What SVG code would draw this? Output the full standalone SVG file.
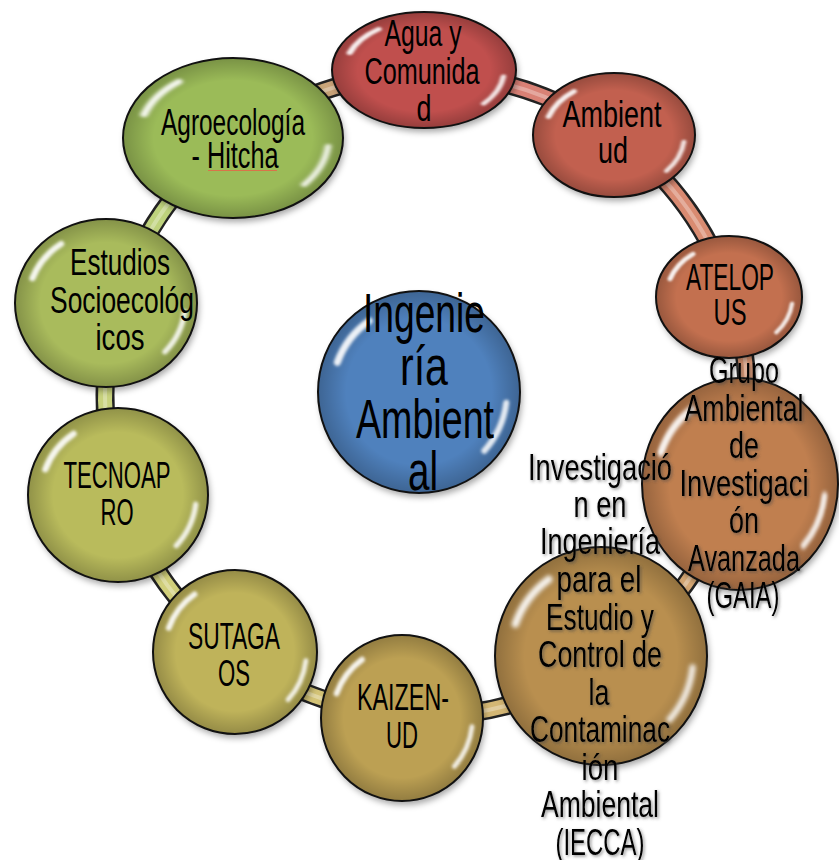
<svg xmlns="http://www.w3.org/2000/svg" xmlns:xlink="http://www.w3.org/1999/xlink" width="839" height="860" viewBox="0 0 839 860">
<style>
.t{font-family:"Liberation Sans Narrow","Liberation Sans",Arial,sans-serif;font-size:37px;fill:#000;text-anchor:middle}
.big{font-size:56px}
.rim{fill:url(#rim);stroke:#111;stroke-width:2}
.band{fill:none;stroke-width:14}
.ts{filter:url(#tsh)}
</style>
<defs>
<filter id="sh" x="-20%" y="-20%" width="140%" height="140%"><feDropShadow dx="2" dy="4" stdDeviation="3" flood-color="#000" flood-opacity="0.35"/></filter>
<filter id="tsh" x="-10%" y="-10%" width="120%" height="120%"><feDropShadow dx="1.5" dy="1.5" stdDeviation="1.5" flood-color="#444" flood-opacity="0.6"/></filter>
<filter id="gb" x="-0.3" y="-0.3" width="1.6" height="1.6"><feGaussianBlur stdDeviation="0.018"/></filter>
<radialGradient id="rim" cx="0.5" cy="0.5" r="0.5">
<stop offset="0.72" stop-color="#000" stop-opacity="0"/>
<stop offset="1" stop-color="#000" stop-opacity="0.22"/>
</radialGradient>
<g id="gloss" fill="none" stroke="#fff" stroke-linecap="round" filter="url(#gb)">
<path d="M-0.808,-0.294 A0.86,0.86 0 0 1 -0.493,-0.704" stroke-width="0.07" stroke-opacity="0.9"/>
<path d="M0.864,0.106 A0.87,0.87 0 0 1 0.647,0.582" stroke-width="0.06" stroke-opacity="0.85"/>
</g>
<linearGradient id="g1" gradientUnits="userSpaceOnUse" x1="423.8" y1="74" x2="614.2" y2="135"><stop offset="0" stop-color="#d97b78"/><stop offset="1" stop-color="#d98673"/></linearGradient>
<linearGradient id="g2" gradientUnits="userSpaceOnUse" x1="614.2" y1="135" x2="731.5" y2="296.3"><stop offset="0" stop-color="#d98673"/><stop offset="1" stop-color="#d98f70"/></linearGradient>
<linearGradient id="g3" gradientUnits="userSpaceOnUse" x1="731.5" y1="296.3" x2="734.9" y2="482.4"><stop offset="0" stop-color="#d98f70"/><stop offset="1" stop-color="#d9a074"/></linearGradient>
<linearGradient id="g4" gradientUnits="userSpaceOnUse" x1="734.9" y1="482.4" x2="604.6" y2="661.8"><stop offset="0" stop-color="#d9a074"/><stop offset="1" stop-color="#d4b074"/></linearGradient>
<linearGradient id="g5" gradientUnits="userSpaceOnUse" x1="604.6" y1="661.8" x2="402.5" y2="715.1"><stop offset="0" stop-color="#d4b074"/><stop offset="1" stop-color="#d4bc74"/></linearGradient>
<linearGradient id="g6" gradientUnits="userSpaceOnUse" x1="402.5" y1="715.1" x2="234.6" y2="652.7"><stop offset="0" stop-color="#d4bc74"/><stop offset="1" stop-color="#d4cc7a"/></linearGradient>
<linearGradient id="g7" gradientUnits="userSpaceOnUse" x1="234.6" y1="652.7" x2="120.7" y2="494.2"><stop offset="0" stop-color="#d4cc7a"/><stop offset="1" stop-color="#cdd27c"/></linearGradient>
<linearGradient id="g8" gradientUnits="userSpaceOnUse" x1="120.7" y1="494.2" x2="117.4" y2="306.5"><stop offset="0" stop-color="#cdd27c"/><stop offset="1" stop-color="#c3d27e"/></linearGradient>
<linearGradient id="g9" gradientUnits="userSpaceOnUse" x1="117.4" y1="306.5" x2="233.3" y2="138.3"><stop offset="0" stop-color="#c3d27e"/><stop offset="1" stop-color="#b8d27a"/></linearGradient>
<linearGradient id="g10" gradientUnits="userSpaceOnUse" x1="233.3" y1="138.3" x2="423.8" y2="74"><stop offset="0" stop-color="#b8d27a"/><stop offset="1" stop-color="#d97b78"/></linearGradient>
</defs>
<rect width="839" height="860" fill="#fff"/>
<g id="connectors">
<circle cx="426" cy="395" r="321" fill="none" stroke="#222" stroke-width="19"/>
<path class="band" stroke="url(#g1)" d="M423.8,74 A321,321 0 0 1 614.2,135"/>
<path class="band" stroke="url(#g2)" d="M614.2,135 A321,321 0 0 1 731.5,296.3"/>
<path class="band" stroke="url(#g3)" d="M731.5,296.3 A321,321 0 0 1 734.9,482.4"/>
<path class="band" stroke="url(#g4)" d="M734.9,482.4 A321,321 0 0 1 604.6,661.8"/>
<path class="band" stroke="url(#g5)" d="M604.6,661.8 A321,321 0 0 1 402.5,715.1"/>
<path class="band" stroke="url(#g6)" d="M402.5,715.1 A321,321 0 0 1 234.6,652.7"/>
<path class="band" stroke="url(#g7)" d="M234.6,652.7 A321,321 0 0 1 120.7,494.2"/>
<path class="band" stroke="url(#g8)" d="M120.7,494.2 A321,321 0 0 1 117.4,306.5"/>
<path class="band" stroke="url(#g9)" d="M117.4,306.5 A321,321 0 0 1 233.3,138.3"/>
<path class="band" stroke="url(#g10)" d="M233.3,138.3 A321,321 0 0 1 423.8,74"/>
<circle cx="426" cy="395" r="321" fill="none" stroke="#fff" stroke-opacity="0.3" stroke-width="4"/>
</g>
<g id="n-center">
<ellipse cx="419" cy="392" rx="101" ry="101" fill="#4f81bd" filter="url(#sh)"/>
<ellipse cx="419" cy="392" rx="101" ry="101" class="rim"/>
<use xlink:href="#gloss" transform="translate(419 392) scale(101 101)"/>
<text class="t big" x="424" y="332" textLength="122" lengthAdjust="spacingAndGlyphs">Ingenie</text>
<text class="t big" x="424" y="385" textLength="48" lengthAdjust="spacingAndGlyphs">ría</text>
<text class="t big" x="425" y="438" textLength="138" lengthAdjust="spacingAndGlyphs">Ambient</text>
<text class="t big" x="423" y="490" textLength="30" lengthAdjust="spacingAndGlyphs">al</text>
</g>
<g id="n-agua">
<ellipse cx="424" cy="70" rx="92" ry="58" fill="#c0504d" filter="url(#sh)"/>
<ellipse cx="424" cy="70" rx="92" ry="58" class="rim"/>
<use xlink:href="#gloss" transform="translate(424 70) scale(92 58)"/>
<text class="t" x="423" y="46" textLength="77" lengthAdjust="spacingAndGlyphs">Agua y</text>
<text class="t" x="422" y="84" textLength="115" lengthAdjust="spacingAndGlyphs">Comunida</text>
<text class="t" x="424" y="121" textLength="15" lengthAdjust="spacingAndGlyphs">d</text>
</g>
<g id="n-ambientud">
<ellipse cx="614" cy="135" rx="81" ry="62" fill="#c2614f" filter="url(#sh)"/>
<ellipse cx="614" cy="135" rx="81" ry="62" class="rim"/>
<use xlink:href="#gloss" transform="translate(614 135) scale(81 62)"/>
<text class="t" x="612" y="127" textLength="99" lengthAdjust="spacingAndGlyphs">Ambient</text>
<text class="t" x="613" y="163" textLength="30" lengthAdjust="spacingAndGlyphs">ud</text>
</g>
<g id="n-atelopus">
<ellipse cx="729" cy="297" rx="73" ry="61" fill="#c3704f" filter="url(#sh)"/>
<ellipse cx="729" cy="297" rx="73" ry="61" class="rim"/>
<use xlink:href="#gloss" transform="translate(729 297) scale(73 61)"/>
<text class="t" x="730" y="290" textLength="88" lengthAdjust="spacingAndGlyphs">ATELOP</text>
<text class="t" x="730" y="325" textLength="33" lengthAdjust="spacingAndGlyphs">US</text>
</g>
<g id="n-gaia">
<ellipse cx="740" cy="484" rx="98" ry="106" fill="#c07f4f" filter="url(#sh)"/>
<ellipse cx="740" cy="484" rx="98" ry="106" class="rim"/>
<use xlink:href="#gloss" transform="translate(740 484) scale(98 106)"/>
<g class="ts">
<text class="t" x="744" y="383" textLength="70" lengthAdjust="spacingAndGlyphs">Grupo</text>
<text class="t" x="744" y="421" textLength="119" lengthAdjust="spacingAndGlyphs">Ambiental</text>
<text class="t" x="744" y="458" textLength="30" lengthAdjust="spacingAndGlyphs">de</text>
<text class="t" x="744" y="496" textLength="129" lengthAdjust="spacingAndGlyphs">Investigaci</text>
<text class="t" x="744" y="533" textLength="30" lengthAdjust="spacingAndGlyphs">ón</text>
<text class="t" x="744" y="571" textLength="112" lengthAdjust="spacingAndGlyphs">Avanzada</text>
<text class="t" x="743" y="608" textLength="73" lengthAdjust="spacingAndGlyphs">(GAIA)</text>
</g>
</g>
<g id="n-iecca">
<ellipse cx="601" cy="656" rx="106" ry="109" fill="#b98f50" filter="url(#sh)"/>
<ellipse cx="601" cy="656" rx="106" ry="109" class="rim"/>
<use xlink:href="#gloss" transform="translate(601 656) scale(106 109)"/>
<g class="ts">
<text class="t" x="600" y="480" textLength="144" lengthAdjust="spacingAndGlyphs">Investigació</text>
<text class="t" x="600" y="517" textLength="53" lengthAdjust="spacingAndGlyphs">n en</text>
<text class="t" x="600" y="554" textLength="120" lengthAdjust="spacingAndGlyphs">Ingeniería</text>
<text class="t" x="599" y="592" textLength="85" lengthAdjust="spacingAndGlyphs">para el</text>
<text class="t" x="600" y="630" textLength="108" lengthAdjust="spacingAndGlyphs">Estudio y</text>
<text class="t" x="600" y="667" textLength="124" lengthAdjust="spacingAndGlyphs">Control de</text>
<text class="t" x="599" y="705" textLength="21" lengthAdjust="spacingAndGlyphs">la</text>
<text class="t" x="600" y="742" textLength="140" lengthAdjust="spacingAndGlyphs">Contaminac</text>
<text class="t" x="600" y="780" textLength="37" lengthAdjust="spacingAndGlyphs">ión</text>
<text class="t" x="600" y="817" textLength="118" lengthAdjust="spacingAndGlyphs">Ambiental</text>
<text class="t" x="600" y="855" textLength="89" lengthAdjust="spacingAndGlyphs">(IECCA)</text>
</g>
</g>
<g id="n-kaizen">
<ellipse cx="402" cy="718" rx="81" ry="83" fill="#bca052" filter="url(#sh)"/>
<ellipse cx="402" cy="718" rx="81" ry="83" class="rim"/>
<use xlink:href="#gloss" transform="translate(402 718) scale(81 83)"/>
<text class="t" x="403" y="710" textLength="92" lengthAdjust="spacingAndGlyphs">KAIZEN-</text>
<text class="t" x="402" y="748" textLength="32" lengthAdjust="spacingAndGlyphs">UD</text>
</g>
<g id="n-sutagaos">
<ellipse cx="235" cy="652" rx="82" ry="82" fill="#bfb35a" filter="url(#sh)"/>
<ellipse cx="235" cy="652" rx="82" ry="82" class="rim"/>
<use xlink:href="#gloss" transform="translate(235 652) scale(82 82)"/>
<text class="t" x="234" y="649" textLength="92" lengthAdjust="spacingAndGlyphs">SUTAGA</text>
<text class="t" x="234" y="686" textLength="32" lengthAdjust="spacingAndGlyphs">OS</text>
</g>
<g id="n-tecnoapro">
<ellipse cx="118" cy="495" rx="90" ry="87" fill="#b9bb5c" filter="url(#sh)"/>
<ellipse cx="118" cy="495" rx="90" ry="87" class="rim"/>
<use xlink:href="#gloss" transform="translate(118 495) scale(90 87)"/>
<text class="t" x="117" y="488" textLength="107" lengthAdjust="spacingAndGlyphs">TECNOAP</text>
<text class="t" x="117" y="525" textLength="33" lengthAdjust="spacingAndGlyphs">RO</text>
</g>
<g id="n-estudios">
<ellipse cx="106" cy="303" rx="91" ry="84" fill="#a9bb5b" filter="url(#sh)"/>
<ellipse cx="106" cy="303" rx="91" ry="84" class="rim"/>
<use xlink:href="#gloss" transform="translate(106 303) scale(91 84)"/>
<text class="t" x="120" y="275" textLength="100" lengthAdjust="spacingAndGlyphs">Estudios</text>
<text class="t" x="122" y="313" textLength="144" lengthAdjust="spacingAndGlyphs">Socioecológ</text>
<text class="t" x="120" y="350" textLength="49" lengthAdjust="spacingAndGlyphs">icos</text>
</g>
<g id="n-agro">
<ellipse cx="233" cy="138" rx="110" ry="80" fill="#9bbb59" filter="url(#sh)"/>
<ellipse cx="233" cy="138" rx="110" ry="80" class="rim"/>
<use xlink:href="#gloss" transform="translate(233 138) scale(110 80)"/>
<text class="t" x="233" y="135" textLength="144" lengthAdjust="spacingAndGlyphs">Agroecología</text>
<text class="t" x="235" y="168" textLength="87" lengthAdjust="spacingAndGlyphs">- Hitcha</text>
<line x1="208" y1="170.5" x2="277" y2="170.5" stroke="#d9734a" stroke-width="1"/>
</g>
</svg>
